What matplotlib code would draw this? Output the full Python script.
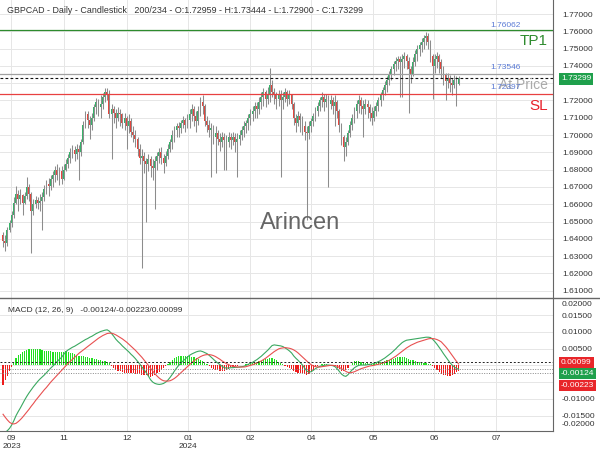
import matplotlib
matplotlib.use("Agg")
import matplotlib.pyplot as plt
import numpy as np
from matplotlib.lines import Line2D

plt.rcParams['font.family'] = ['Liberation Sans', 'DejaVu Sans']

# * datos GBPCAD diario

opens = [
    1.6420, 1.6390, 1.6375, 1.6450, 1.6490, 1.6540, 1.6610, 1.6660, 1.6630, 1.6655,
    1.6610, 1.6645, 1.6700, 1.6660, 1.6560, 1.6600, 1.6625, 1.6605, 1.6620, 1.6640,
    1.6690, 1.6720, 1.6705, 1.6745, 1.6770, 1.6800, 1.6770, 1.6790, 1.6745, 1.6800,
    1.6830, 1.6870, 1.6900, 1.6915, 1.6890, 1.6920, 1.6900, 1.6960, 1.7060, 1.7120,
    1.7085, 1.7060, 1.7100, 1.7160, 1.7190, 1.7160, 1.7180, 1.7220, 1.7250, 1.7240,
    1.7120, 1.7150, 1.7130, 1.7100, 1.7130, 1.7120, 1.7070, 1.7100, 1.7050, 1.7080,
    1.7020, 1.7000, 1.6980, 1.6920, 1.6870, 1.6880, 1.6850, 1.6830, 1.6860, 1.6820,
    1.6810, 1.6850, 1.6880, 1.6900, 1.6870, 1.6840, 1.6880, 1.6920, 1.6960, 1.7000,
    1.7030, 1.7050, 1.7040, 1.7070, 1.7090, 1.7060, 1.7090, 1.7120, 1.7150, 1.7110,
    1.7080, 1.7140, 1.7190, 1.7170, 1.7080, 1.7060, 1.7030, 1.7040, 1.6990, 1.7010,
    1.6980, 1.6960, 1.6990, 1.6970, 1.6960, 1.6990, 1.6970, 1.6990, 1.6960, 1.6980,
    1.7000, 1.7030, 1.7050, 1.7070, 1.7100, 1.7120, 1.7140, 1.7170, 1.7150, 1.7190,
    1.7220, 1.7250, 1.7210, 1.7240, 1.7290, 1.7250, 1.7230, 1.7210, 1.7240, 1.7200,
    1.7220, 1.7250, 1.7210, 1.7230, 1.7180, 1.7100, 1.7070, 1.7110, 1.7090, 1.7050,
    1.7020, 1.7010, 1.7050, 1.7080, 1.7110, 1.7140, 1.7170, 1.7200, 1.7220, 1.7190,
    1.7210, 1.7180, 1.7200, 1.7170, 1.7190, 1.7140, 1.7060, 1.6990, 1.6930, 1.6960,
    1.7010, 1.7060, 1.7100, 1.7140, 1.7180, 1.7200, 1.7170, 1.7150, 1.7180, 1.7160,
    1.7130, 1.7100, 1.7140, 1.7170, 1.7200, 1.7230, 1.7260, 1.7290, 1.7320, 1.7350,
    1.7380, 1.7410, 1.7430, 1.7440, 1.7420, 1.7440, 1.7460, 1.7430, 1.7380, 1.7350,
    1.7420, 1.7470, 1.7500, 1.7520, 1.7540, 1.7560, 1.7570, 1.7540, 1.7460, 1.7400,
    1.7440, 1.7460, 1.7420, 1.7380, 1.7350, 1.7310, 1.7330, 1.7300, 1.7290, 1.7320,
    1.72959,
]

highs = [
    1.6440, 1.6420, 1.6470, 1.6510, 1.6560, 1.6640, 1.6705, 1.6680, 1.6690, 1.6660,
    1.6670, 1.6755, 1.6720, 1.6670, 1.6630, 1.6650, 1.6640, 1.6660, 1.6670, 1.6710,
    1.6740, 1.6750, 1.6770, 1.6790, 1.6820, 1.6830, 1.6815, 1.6820, 1.6830, 1.6860,
    1.6890, 1.6925, 1.6945, 1.6935, 1.6950, 1.6940, 1.6980, 1.7080, 1.7140, 1.7140,
    1.7110, 1.7130, 1.7180, 1.7215, 1.7210, 1.7230, 1.7245, 1.7270, 1.7275, 1.7260,
    1.7180, 1.7170, 1.7150, 1.7160, 1.7150, 1.7130, 1.7130, 1.7110, 1.7120, 1.7100,
    1.7050, 1.7030, 1.6990, 1.6950, 1.6920, 1.6900, 1.6870, 1.6890, 1.6880, 1.6860,
    1.6880, 1.6900, 1.6925, 1.6930, 1.6890, 1.6910, 1.6950, 1.6980, 1.7030, 1.7050,
    1.7070, 1.7075, 1.7090, 1.7110, 1.7100, 1.7120, 1.7150, 1.7180, 1.7170, 1.7140,
    1.7170, 1.7220, 1.7230, 1.7180, 1.7110, 1.7090, 1.7070, 1.7060, 1.7050, 1.7030,
    1.7010, 1.7020, 1.7010, 1.7000, 1.7020, 1.7010, 1.7020, 1.7010, 1.7010, 1.7030,
    1.7050, 1.7080, 1.7090, 1.7120, 1.7150, 1.7170, 1.7190, 1.7190, 1.7220, 1.7250,
    1.7270, 1.7260, 1.7280, 1.7390, 1.7320, 1.7270, 1.7250, 1.7260, 1.7260, 1.7250,
    1.7270, 1.7260, 1.7260, 1.7240, 1.7190, 1.7120, 1.7140, 1.7130, 1.7110, 1.7080,
    1.7050, 1.7080, 1.7100, 1.7130, 1.7160, 1.7190, 1.7220, 1.7250, 1.7240, 1.7240,
    1.7230, 1.7230, 1.7220, 1.7230, 1.7200, 1.7150, 1.7070, 1.7000, 1.6990, 1.7030,
    1.7080, 1.7120, 1.7160, 1.7200, 1.7230, 1.7220, 1.7200, 1.7210, 1.7200, 1.7180,
    1.7160, 1.7170, 1.7190, 1.7220, 1.7250, 1.7280, 1.7310, 1.7340, 1.7370, 1.7400,
    1.7430, 1.7450, 1.7460, 1.7460, 1.7470, 1.7480, 1.7470, 1.7450, 1.7400, 1.7450,
    1.7490, 1.7520, 1.7540, 1.7560, 1.7580, 1.7596, 1.7590, 1.7550, 1.7470, 1.7470,
    1.7480, 1.7470, 1.7440, 1.7400, 1.7360, 1.7360, 1.7350, 1.7330, 1.7350, 1.7340,
    1.73444,
]

lows = [
    1.6355, 1.6330, 1.6360, 1.6440, 1.6470, 1.6520, 1.6600, 1.6560, 1.6600, 1.6540,
    1.6600, 1.6630, 1.6620, 1.6320, 1.6540, 1.6580, 1.6570, 1.6560, 1.6450, 1.6620,
    1.6660, 1.6650, 1.6680, 1.6700, 1.6730, 1.6740, 1.6710, 1.6720, 1.6740, 1.6790,
    1.6810, 1.6840, 1.6870, 1.6850, 1.6860, 1.6740, 1.6880, 1.6950, 1.7040, 1.7040,
    1.6980, 1.7030, 1.7080, 1.7120, 1.7110, 1.7100, 1.7150, 1.7190, 1.7200, 1.7100,
    1.6860, 1.7070, 1.7040, 1.7080, 1.7050, 1.7040, 1.7030, 1.6920, 1.7010, 1.6990,
    1.6960, 1.6930, 1.6880, 1.6830, 1.6230, 1.6780, 1.6500, 1.6790, 1.6760, 1.6740,
    1.6570, 1.6800, 1.6840, 1.6830, 1.6780, 1.6820, 1.6860, 1.6900, 1.6920, 1.6960,
    1.6990, 1.6990, 1.7010, 1.7040, 1.7020, 1.7040, 1.7040, 1.7080, 1.7050, 1.7020,
    1.7060, 1.7110, 1.7120, 1.7050, 1.7020, 1.6990, 1.6760, 1.6950, 1.6780, 1.6940,
    1.6910, 1.6930, 1.6800, 1.6800, 1.6930, 1.6920, 1.6940, 1.6900, 1.6760, 1.6940,
    1.6970, 1.6990, 1.7010, 1.7030, 1.7060, 1.7080, 1.7100, 1.7100, 1.7120, 1.7150,
    1.7170, 1.7160, 1.7180, 1.7190, 1.7220, 1.7180, 1.7150, 1.7170, 1.6760, 1.7150,
    1.7190, 1.7170, 1.7180, 1.7150, 1.7060, 1.7020, 1.7050, 1.7020, 1.7000, 1.6970,
    1.6510, 1.6980, 1.7020, 1.7050, 1.7080, 1.7110, 1.7140, 1.7160, 1.7140, 1.7160,
    1.6700, 1.7150, 1.7120, 1.7050, 1.7100, 1.7020, 1.6940, 1.6850, 1.6880, 1.6940,
    1.6990, 1.7030, 1.7070, 1.7100, 1.7130, 1.7120, 1.6990, 1.7120, 1.7100, 1.7080,
    1.7060, 1.7080, 1.7110, 1.7140, 1.7170, 1.7200, 1.7230, 1.7250, 1.7290, 1.7320,
    1.7350, 1.7370, 1.7380, 1.7220, 1.7220, 1.7390, 1.7380, 1.7130, 1.7300, 1.7340,
    1.7400, 1.7430, 1.7460, 1.7480, 1.7500, 1.7520, 1.7500, 1.7420, 1.7210, 1.7360,
    1.7390, 1.7360, 1.7330, 1.7290, 1.7200, 1.7270, 1.7250, 1.7230, 1.7270, 1.7170,
    1.7290,
]

closes = [
    1.6390, 1.6375, 1.6450, 1.6490, 1.6540, 1.6610, 1.6660, 1.6630, 1.6655, 1.6610,
    1.6645, 1.6700, 1.6660, 1.6560, 1.6600, 1.6625, 1.6605, 1.6620, 1.6640, 1.6690,
    1.6720, 1.6705, 1.6745, 1.6770, 1.6800, 1.6770, 1.6790, 1.6745, 1.6800, 1.6830,
    1.6870, 1.6900, 1.6915, 1.6890, 1.6920, 1.6900, 1.6960, 1.7060, 1.7120, 1.7085,
    1.7060, 1.7100, 1.7160, 1.7190, 1.7160, 1.7180, 1.7220, 1.7250, 1.7240, 1.7120,
    1.7150, 1.7130, 1.7100, 1.7130, 1.7120, 1.7070, 1.7100, 1.7050, 1.7080, 1.7020,
    1.7000, 1.6980, 1.6920, 1.6870, 1.6880, 1.6850, 1.6830, 1.6860, 1.6820, 1.6810,
    1.6850, 1.6880, 1.6900, 1.6870, 1.6840, 1.6880, 1.6920, 1.6960, 1.7000, 1.7030,
    1.7050, 1.7040, 1.7070, 1.7090, 1.7060, 1.7090, 1.7120, 1.7150, 1.7110, 1.7080,
    1.7140, 1.7190, 1.7170, 1.7080, 1.7060, 1.7030, 1.7040, 1.6990, 1.7010, 1.6980,
    1.6960, 1.6990, 1.6970, 1.6960, 1.6990, 1.6970, 1.6990, 1.6960, 1.6980, 1.7000,
    1.7030, 1.7050, 1.7070, 1.7100, 1.7120, 1.7140, 1.7170, 1.7150, 1.7190, 1.7220,
    1.7250, 1.7210, 1.7240, 1.7290, 1.7250, 1.7230, 1.7210, 1.7240, 1.7200, 1.7220,
    1.7250, 1.7210, 1.7230, 1.7180, 1.7100, 1.7070, 1.7110, 1.7090, 1.7050, 1.7020,
    1.7010, 1.7050, 1.7080, 1.7110, 1.7140, 1.7170, 1.7200, 1.7220, 1.7190, 1.7210,
    1.7180, 1.7200, 1.7170, 1.7190, 1.7140, 1.7060, 1.6990, 1.6930, 1.6960, 1.7010,
    1.7060, 1.7100, 1.7140, 1.7180, 1.7200, 1.7170, 1.7150, 1.7180, 1.7160, 1.7130,
    1.7100, 1.7140, 1.7170, 1.7200, 1.7230, 1.7260, 1.7290, 1.7320, 1.7350, 1.7380,
    1.7410, 1.7430, 1.7440, 1.7420, 1.7440, 1.7460, 1.7430, 1.7380, 1.7350, 1.7420,
    1.7470, 1.7500, 1.7520, 1.7540, 1.7560, 1.7570, 1.7540, 1.7460, 1.7400, 1.7440,
    1.7460, 1.7420, 1.7380, 1.7350, 1.7310, 1.7330, 1.7300, 1.7290, 1.7320, 1.7296,
    1.73299,
]

macd = [
    -0.0205, -0.0200, -0.0195, -0.0188, -0.0178, -0.0165, -0.0150, -0.0138, -0.0127, -0.0115,
    -0.0103, -0.0092, -0.0082, -0.0073, -0.0064, -0.0056, -0.0048, -0.0041, -0.0035, -0.0029,
    -0.0022, -0.0015, -0.0008, -0.0002, 0.0005, 0.0012, 0.0018, 0.0024, 0.0033, 0.0041,
    0.0046, 0.0050, 0.0054, 0.0057, 0.0061, 0.0065, 0.0069, 0.0073, 0.0077, 0.0080,
    0.0084, 0.0087, 0.0091, 0.0095, 0.0098, 0.0101, 0.0103, 0.0105, 0.0106, 0.0102,
    0.0095, 0.0087, 0.0078, 0.0071, 0.0065, 0.0058, 0.0052, 0.0046, 0.0040, 0.0033,
    0.0027, 0.0020, 0.0012, 0.0004, -0.0005, -0.0013, -0.0022, -0.0032, -0.0043, -0.0050,
    -0.0054, -0.0056, -0.0057, -0.0056, -0.0054, -0.0050, -0.0044, -0.0036, -0.0027, -0.0017,
    -0.0008, 0.0000, 0.0007, 0.0013, 0.0019, 0.0025, 0.0030, 0.0034, 0.0037, 0.0040,
    0.0042, 0.0043, 0.0041, 0.0038, 0.0035, 0.0030, 0.0024, 0.0018, 0.0012, 0.0007,
    0.0002, -0.0003, -0.0007, -0.0008, -0.0008, -0.0007, -0.0007, -0.0006, -0.0006, -0.0005,
    -0.0004, -0.0003, 0.0000, 0.0003, 0.0006, 0.0009, 0.0013, 0.0017, 0.0022, 0.0027,
    0.0033, 0.0039, 0.0045, 0.0052, 0.0059, 0.0061, 0.0060, 0.0059, 0.0058, 0.0056,
    0.0052, 0.0048, 0.0043, 0.0037, 0.0028, 0.0021, 0.0015, 0.0008, 0.0001, -0.0008,
    -0.0017, -0.0020, -0.0019, -0.0015, -0.0010, -0.0006, -0.0003, -0.0001, 0.0000, 0.0001,
    0.0001, 0.0000, -0.0001, -0.0004, -0.0010, -0.0018, -0.0026, -0.0031, -0.0033, -0.0028,
    -0.0020, -0.0013, -0.0007, -0.0003, 0.0000, 0.0001, 0.0001, 0.0001, 0.0002, 0.0003,
    0.0004, 0.0006, 0.0008, 0.0011, 0.0014, 0.0018, 0.0022, 0.0027, 0.0032, 0.0037,
    0.0043, 0.0049, 0.0056, 0.0062, 0.0068, 0.0072, 0.0075, 0.0076, 0.0077, 0.0078,
    0.0079, 0.0080, 0.0081, 0.0082, 0.0083, 0.0084, 0.0084, 0.0083, 0.0078, 0.0071,
    0.0063, 0.0054, 0.0045, 0.0035, 0.0026, 0.0017, 0.0008, 0.0001, -0.0005, -0.0009,
    -0.0012,
]

signal = [
    -0.0146, -0.0155, -0.0163, -0.0170, -0.0174, -0.0175, -0.0173, -0.0168, -0.0162, -0.0155,
    -0.0147, -0.0139, -0.0131, -0.0122, -0.0114, -0.0105, -0.0097, -0.0089, -0.0081, -0.0073,
    -0.0066, -0.0058, -0.0050, -0.0043, -0.0036, -0.0029, -0.0022, -0.0015, -0.0008, -0.0001,
    0.0006, 0.0012, 0.0018, 0.0024, 0.0030, 0.0036, 0.0041, 0.0046, 0.0051, 0.0056,
    0.0061, 0.0066, 0.0071, 0.0076, 0.0081, 0.0085, 0.0089, 0.0092, 0.0095, 0.0096,
    0.0096, 0.0094, 0.0091, 0.0087, 0.0083, 0.0079, 0.0074, 0.0069, 0.0063, 0.0057,
    0.0051, 0.0045, 0.0038, 0.0031, 0.0024, 0.0016, 0.0008, 0.0000, -0.0009, -0.0017,
    -0.0025, -0.0032, -0.0038, -0.0043, -0.0046, -0.0047, -0.0047, -0.0046, -0.0043, -0.0039,
    -0.0034, -0.0028, -0.0022, -0.0016, -0.0010, -0.0004, 0.0002, 0.0008, 0.0013, 0.0018,
    0.0022, 0.0026, 0.0029, 0.0031, 0.0032, 0.0032, 0.0031, 0.0029, 0.0026, 0.0022,
    0.0018, 0.0013, 0.0009, 0.0005, 0.0002, -0.0001, -0.0003, -0.0004, -0.0005, -0.0005,
    -0.0005, -0.0005, -0.0004, -0.0002, 0.0000, 0.0002, 0.0004, 0.0007, 0.0010, 0.0013,
    0.0017, 0.0021, 0.0026, 0.0031, 0.0036, 0.0041, 0.0045, 0.0049, 0.0051, 0.0052,
    0.0053, 0.0052, 0.0051, 0.0049, 0.0046, 0.0042, 0.0037, 0.0031, 0.0025, 0.0019,
    0.0013, 0.0007, 0.0002, -0.0002, -0.0004, -0.0005, -0.0005, -0.0004, -0.0003, -0.0002,
    -0.0001, 0.0000, 0.0000, -0.0001, -0.0003, -0.0006, -0.0010, -0.0014, -0.0018, -0.0021,
    -0.0022, -0.0021, -0.0019, -0.0016, -0.0013, -0.0010, -0.0008, -0.0006, -0.0004, -0.0002,
    -0.0001, 0.0000, 0.0002, 0.0003, 0.0005, 0.0007, 0.0009, 0.0012, 0.0015, 0.0019,
    0.0023, 0.0027, 0.0032, 0.0037, 0.0042, 0.0047, 0.0052, 0.0056, 0.0060, 0.0063,
    0.0066, 0.0069, 0.0071, 0.0073, 0.0075, 0.0077, 0.0079, 0.0080, 0.0080, 0.0079,
    0.0077, 0.0074, 0.0070, 0.0063, 0.0056, 0.0048, 0.0039, 0.0030, 0.0021, 0.0012,
    0.0004,
]

meses = ["09\n2023", "11", "12", "01\n2024", "02", "04", "05", "06", "07"]
pos_meses = [3.9, 28.1, 57.1, 85.3, 113.8, 141.9, 170.5, 198.6, 227.2]

niveles_precio = [1.61, 1.62, 1.63, 1.64, 1.65, 1.66, 1.67, 1.68, 1.69,
                  1.70, 1.71, 1.72, 1.74, 1.75, 1.76, 1.77]
niveles_macd = [0.015, 0.01, 0.005, -0.01, -0.015]

tp1 = 1.76062
nivel_gris = 1.73546
precio_actual = 1.73299
sl = 1.72397
macd_ult, senal_ult, hist_ult = -0.00124, -0.00223, 0.00099

# * figura

o = np.array(opens)
h = np.array(highs)
l = np.array(lows)
c = np.array(closes)
x = np.arange(len(c))
hist = np.array(macd) - np.array(signal)

fig = plt.figure(figsize=(6, 4.5), dpi=100)
ax = fig.add_axes([0, 152 / 450, 553 / 600, 298 / 450])
axm = fig.add_axes([0, 19 / 450, 553 / 600, 133 / 450])

gris_grid = '#e6e6e6'
for a in (ax, axm):
    a.set_xlim(-1.4, 253.5)
    a.set_axisbelow(True)
    a.grid(True, color=gris_grid, lw=0.7)
    a.yaxis.tick_right()
    a.spines['left'].set_visible(False)
    a.spines['top'].set_visible(False)
    a.spines['right'].set_color('#666666')
    a.tick_params(axis='y', length=0, pad=6.5, labelsize=6, labelcolor='#333333')
    a.set_xticks(pos_meses)

# velas
colores = np.where(c >= o, '#36b36a', '#e8453c')
ax.vlines(x, l, h, color='#8c8c8c', lw=0.75)
ax.bar(x, c - o, bottom=o, width=0.85, color=colores, linewidth=0)

ax.set_ylim(1.6058, 1.7781)
ax.set_yticks(niveles_precio)
ax.set_yticklabels([f"{v:.5f}" for v in niveles_precio])
ax.set_yticks(np.arange(1.61, 1.775, 0.01), minor=True)
ax.grid(True, which='minor', axis='y', color=gris_grid, lw=0.7)
ax.tick_params(axis='y', which='minor', length=0)
ax.tick_params(axis='x', length=0, labelbottom=False)
ax.spines['bottom'].set_visible(False)

ax.axhline(tp1, color='#2e8b2e', lw=0.9)
ax.axhline(nivel_gris, color='#a0a0a0', lw=0.9)
ax.axhline(precio_actual, color='#111111', lw=0.8, ls=(0, (2.5, 2)))
ax.axhline(sl, color='#e84040', lw=0.9)

tr = ax.get_yaxis_transform()
azul = '#5b7bd5'
ax.text(0.886, 1.76364, f"{tp1:.5f}", transform=tr, color=azul, fontsize=6, va='center')
ax.text(0.886, 1.73879, f"{nivel_gris:.5f}", transform=tr, color=azul, fontsize=6, va='center')
ax.text(0.991, 1.7290, "At Price", transform=tr, color='#aaaaaa', fontsize=10, ha='right', va='center')
ax.text(0.886, 1.72728, f"{sl:.5f}", transform=tr, color=azul, fontsize=6, va='center')
ax.text(0.991, 1.7544, "TP1", transform=tr, color='#2e8b2e', fontsize=11, ha='right', va='center')
ax.text(0.991, 1.7168, "SL", transform=tr, color='#e8202a', fontsize=11, ha='right', va='center')

# MACD
axm.bar(x, hist, width=0.55, color=np.where(hist >= 0, '#22e022', '#ee1c1c'), linewidth=0)
axm.plot(x, macd, color='#3aa860', lw=0.8)
axm.plot(x, signal, color='#e85050', lw=0.8)
axm.axhline(hist_ult, color='#222222', lw=0.7, ls=(0, (2, 2)))
axm.axhline(macd_ult, color='#888888', lw=0.7, ls=(0, (1, 1.5)))
axm.axhline(senal_ult, color='#888888', lw=0.7, ls=(0, (1, 1.5)))

axm.set_ylim(-0.0196, 0.0201)
axm.set_yticks(niveles_macd)
axm.set_yticklabels([f"{v:.5f}" for v in niveles_macd])
axm.set_yticks(np.arange(-0.015, 0.0201, 0.005), minor=True)
axm.grid(True, which='minor', axis='y', color=gris_grid, lw=0.7)
axm.tick_params(axis='y', which='minor', length=0)
axm.set_xticklabels(meses)
axm.tick_params(axis='x', length=0, pad=3, labelsize=6, labelcolor='#333333')
axm.spines['bottom'].set_color('#666666')

# separador entre paneles
fig.add_artist(Line2D([0, 1], [152 / 450, 152 / 450], color='#666666', lw=1))

def fy(py):
    return 1 - py / 450

fig.text(562 / 600, fy(305), "0.02000", fontsize=6, color='#333333', va='center')
fig.text(562 / 600, fy(424), "-0.02000", fontsize=6, color='#333333', va='center')

cajas = [
    (79, f"{precio_actual:.5f}", '#1fa04c'),
    (362.5, f"{hist_ult:.5f}", '#e8262a'),
    (373.5, f"{macd_ult:.5f}", '#1fa04c'),
    (385.5, f"{senal_ult:.5f}", '#e8262a'),
]
for py, txt, col in cajas:
    fig.text(561 / 600, fy(py), txt, fontsize=6, color='white', va='center',
             bbox=dict(boxstyle='square,pad=0.25', facecolor=col, edgecolor='none'))

fig.text(7 / 600, fy(10.5),
         "GBPCAD - Daily - Candlestick   200/234 - O:1.72959 - H:1.73444 - L:1.72900 - C:1.73299",
         fontsize=6.4, color='#333333', va='center')
fig.text(8 / 600, fy(311), "MACD (12, 26, 9)   -0.00124/-0.00223/0.00099",
         fontsize=6, color='#333333', va='center')
fig.text(300 / 600, fy(223), "Arincen", fontsize=17, color='#666666', ha='center', va='center')

fig.savefig("out.png", dpi=100)
